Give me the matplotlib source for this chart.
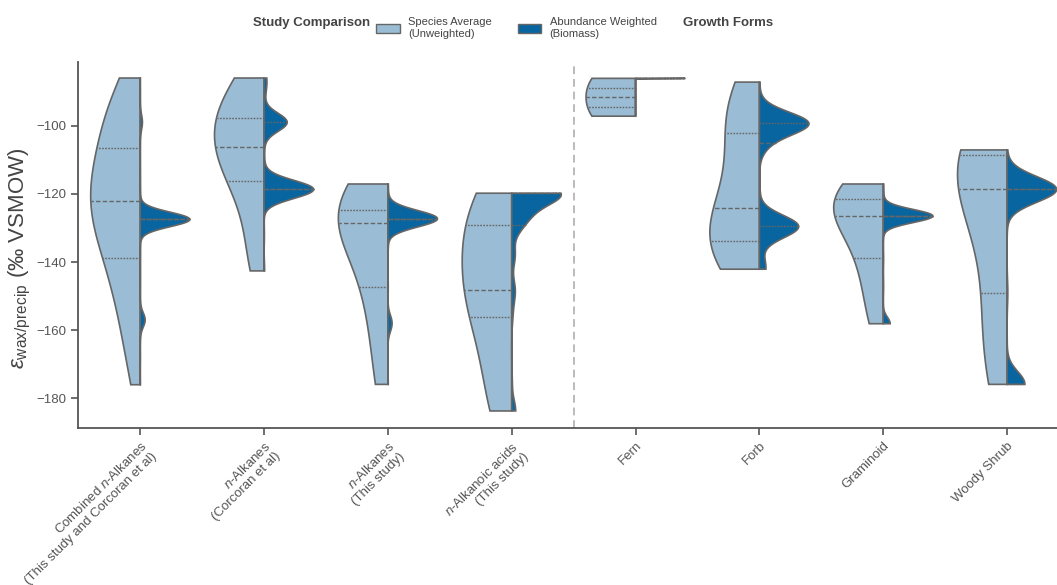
import numpy as np
import matplotlib
matplotlib.use("Agg")
import matplotlib.pyplot as plt
from matplotlib.patches import Patch

plt.rcParams['font.family'] = ['Liberation Sans', 'DejaVu Sans']
plt.rcParams['mathtext.fontset'] = 'custom'
plt.rcParams['mathtext.rm'] = 'Liberation Sans'
plt.rcParams['mathtext.it'] = 'Liberation Sans:italic'
plt.rcParams['mathtext.bf'] = 'Liberation Sans:bold'
plt.rcParams['axes.unicode_minus'] = True

# x categories (study comparison on the left, growth forms on the right)
categories = [
    "Combined $\\mathit{n}$-Alkanes\n(This study and Corcoran et al)",
    "$\\mathit{n}$-Alkanes\n(Corcoran et al)",
    "$\\mathit{n}$-Alkanes\n(This study)",
    "$\\mathit{n}$-Alkanoic acids\n(This study)",
    "Fern",
    "Forb",
    "Graminoid",
    "Woody Shrub",
]

# species values (permil) and biomass weights for the abundance weighted half
combined_vals = [-86, -89, -92, -94.5, -97, -99, -101.5, -104, -106.6, -109.5,
                 -112, -114, -116, -117.5, -119, -120.5, -122.1, -124, -126,
                 -127.5, -129, -131, -133.5, -136, -138.7, -142, -145, -148,
                 -152, -157, -162, -168, -176]
combined_biomass = [5, 5, 5, 5, 5, 150, 5, 5, 5, 5,
                    5, 5, 5, 5, 5, 5, 10, 10, 10,
                    3500, 10, 10, 10, 10, 10, 10, 10, 10,
                    10, 350, 10, 10, 10]

corcoran_vals = [-86, -89.5, -96.4, -99, -101, -106.2, -110, -113.7, -118.7,
                 -132, -142.6]
corcoran_biomass = [30, 20, 5, 320, 5, 5, 5, 5, 700, 5, 8]

this_vals = [-117.1, -121, -124.6, -127.3, -128.6, -135, -147.3, -158, -175.9]
this_biomass = [5, 5, 5, 700, 5, 5, 5, 60, 5]

acid_vals = [-119.8, -125, -129.1, -138, -148.1, -152, -156, -175, -183.7]
acid_biomass = [1740, 480, 300, 130, 120, 30, 30, 20, 150]

fern_vals = [-86.1, -97.2]
fern_biomass = [1000, 1]

forb_vals = [-87.2, -94, -99.3, -105, -117, -124, -129.5, -131.6, -136,
             -140, -142.1]
forb_biomass = [9, 30, 1350, 180, 15, 15, 1050, 60, 30, 15, 165]

graminoid_vals = [-117.1, -119.5, -121.5, -123.5, -126.5, -131, -138.9,
                  -147, -158.1]
graminoid_biomass = [20, 20, 20, 20, 4000, 20, 20, 20, 560]

shrub_vals = [-107.1, -107.8, -108.7, -113, -118.7, -130, -149, -163, -175.9]
shrub_biomass = [20, 20, 20, 20, 10000, 20, 150, 20, 3600]

values = [combined_vals, corcoran_vals, this_vals, acid_vals,
          fern_vals, forb_vals, graminoid_vals, shrub_vals]
biomass = [combined_biomass, corcoran_biomass, this_biomass, acid_biomass,
           fern_biomass, forb_biomass, graminoid_biomass, shrub_biomass]

light = "#9abcd5"
dark = "#0865a0"
edge = "#666666"
txt = "#444444"
spine = "#555555"


def kde(vals, counts, n_grid=900):
    # gaussian kde, scott bandwidth, counts act like repeated observations
    vals = np.asarray(vals, float)
    counts = np.asarray(counts, float)
    n = counts.sum()
    mean = np.sum(counts * vals) / n
    std = np.sqrt(np.sum(counts * (vals - mean) ** 2) / (n - 1))
    bw = std * n ** (-1 / 5)
    grid = np.linspace(vals.min(), vals.max(), n_grid)
    dens = np.sum(counts[:, None] *
                  np.exp(-0.5 * ((grid[None, :] - vals[:, None]) / bw) ** 2), axis=0)
    return grid, dens / dens.max()


def half_violin(ax, pos, vals, counts, side, color):
    grid, dens = kde(vals, counts)
    w = 0.4 * dens * side
    xs = np.concatenate([[pos], pos + w, [pos]])
    ys = np.concatenate([[grid[0]], grid, [grid[-1]]])
    ax.fill(xs, ys, facecolor=color, edgecolor=edge, lw=1.2, zorder=2)
    q = np.percentile(np.repeat(vals, np.asarray(counts, int)), [25, 50, 75])
    for qi, dash in zip(q, [(1.2, 1.0), (3.2, 1.6), (1.2, 1.0)]):
        wq = np.interp(qi, grid, w)
        ax.plot([pos, pos + wq], [qi, qi], color=edge, lw=1.0,
                dashes=dash, zorder=3)


fig = plt.figure(figsize=(10.57, 5.85), dpi=100)
ax = fig.add_axes([78.3 / 1057, 1 - 428 / 585, 990.7 / 1057, 366 / 585])

for i, (v, b) in enumerate(zip(values, biomass)):
    half_violin(ax, i, v, [1] * len(v), -1, light)
    half_violin(ax, i, v, b, 1, dark)

ax.axvline(3.5, color="#bbbbbb", ls=(0, (4, 2.5)), lw=1.4, zorder=1)

ax.set_xlim(-0.5, 7.5)
ax.set_ylim(-188.7, -81.3)
ax.set_yticks([-180, -160, -140, -120, -100])
ax.set_xticks(range(len(categories)))
ax.set_xticklabels(categories, rotation=45, ha="right", rotation_mode="anchor",
                   fontsize=9.5, color=txt)
ax.tick_params(axis="y", labelsize=9.5, labelcolor=txt)
ax.tick_params(colors=spine, width=1.2, length=5)
for s in ["top", "right"]:
    ax.spines[s].set_visible(False)
for s in ["left", "bottom"]:
    ax.spines[s].set_color(spine)
    ax.spines[s].set_linewidth(1.3)

ax.set_ylabel("$\\varepsilon_{\\mathrm{wax/precip}}$ (\u2030 VSMOW)",
              fontsize=16, color=txt)
ax.yaxis.set_label_coords(-0.046, 0.463)

# legend
fig.text(253 / 1057, 1 - 23 / 585, "Study Comparison", fontsize=9.5,
         fontweight="bold", color=txt, va="center", ha="left")
fig.text(683 / 1057, 1 - 23 / 585, "Growth Forms", fontsize=9.5,
         fontweight="bold", color=txt, va="center", ha="left")
handles = [Patch(facecolor=light, edgecolor=edge, lw=1.0),
           Patch(facecolor=dark, edgecolor=edge, lw=1.0)]
leg = fig.legend(handles, ["Species Average\n(Unweighted)", "Abundance Weighted\n(Biomass)"],
                 loc="center left", bbox_to_anchor=(376 / 1057, 1 - 28 / 585),
                 ncol=2, frameon=False, fontsize=8, borderpad=0, borderaxespad=0,
                 handlelength=2.15, handleheight=0.9, handletextpad=0.75,
                 columnspacing=2.3, labelspacing=0.2)
for t in leg.get_texts():
    t.set_color(txt)

fig.savefig("out.png", dpi=100)
